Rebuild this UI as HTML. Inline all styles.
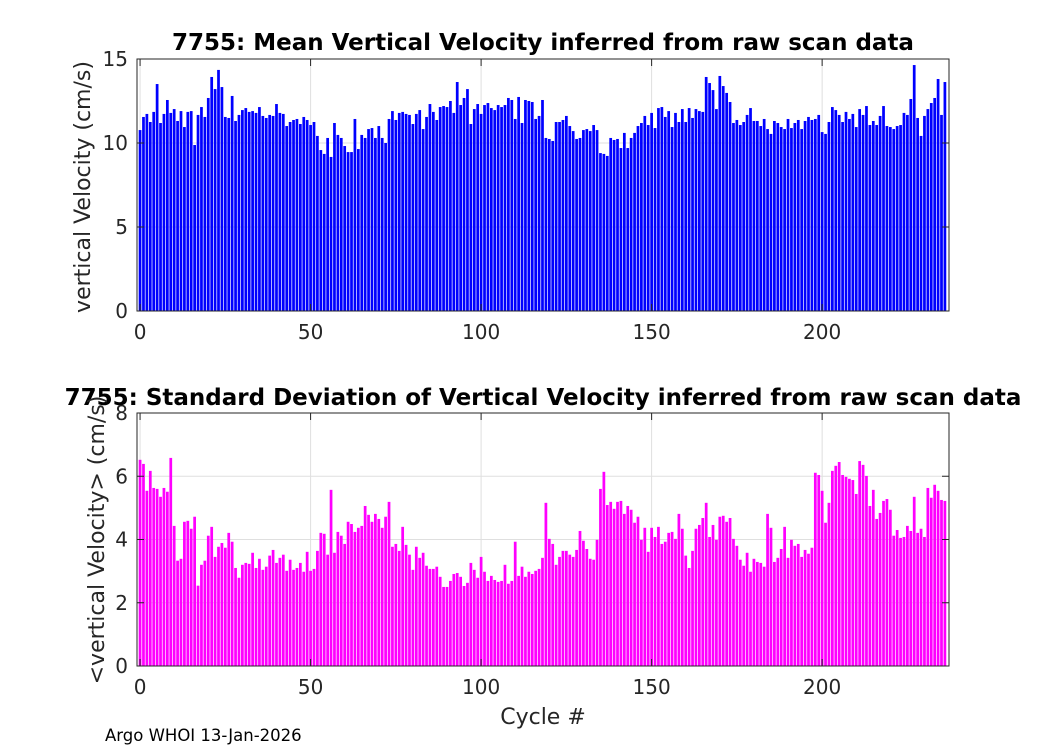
<!DOCTYPE html>
<html><head><meta charset="utf-8"><style>
html,body{margin:0;padding:0;background:#fff;}
svg{display:block;font-family:"DejaVu Sans","Liberation Sans",sans-serif;}
</style></head><body>
<svg id="fig" width="1050" height="750" viewBox="0 0 1050 750">
<rect width="1050" height="750" fill="#fff"/>
<g id="top"></g>
<g id="bot"></g>
<text x="543" y="50" text-anchor="middle" font-size="23" font-weight="bold" fill="#000">7755: Mean Vertical Velocity inferred from raw scan data</text>
<text x="543" y="405" text-anchor="middle" font-size="23" font-weight="bold" fill="#000">7755: Standard Deviation of Vertical Velocity inferred from raw scan data</text>
<text transform="translate(90,187) rotate(-90)" text-anchor="middle" font-size="22" fill="#262626">vertical Velocity (cm/s)</text>
<text transform="translate(104,540) rotate(-90)" text-anchor="middle" font-size="22" fill="#262626">&lt;vertical Velocity&gt; (cm/s)</text>
<text x="543" y="724" text-anchor="middle" font-size="22" fill="#262626">Cycle #</text>
<text x="105" y="741" font-size="16.5" fill="#000">Argo WHOI 13-Jan-2026</text>
</svg>
<script>
const meanVel = [10.77,11.55,11.73,11.25,11.85,13.51,11.19,11.73,12.56,11.79,12.02,11.31,11.9,10.95,11.85,11.9,9.88,11.67,12.14,11.55,12.68,13.93,13.21,14.35,13.33,11.55,11.49,12.8,11.31,11.67,11.96,12.08,11.85,11.9,11.79,12.14,11.61,11.49,11.67,11.61,12.32,
11.79,11.73,11.01,11.25,11.37,11.43,11.13,11.55,11.37,11.07,11.25,10.42,9.58,9.35,10.3,9.17,11.19,10.48,10.3,9.82,9.46,9.46,11.43,9.64,10.48,10.3,10.83,10.89,10.3,11.01,10.3,10.0,11.43,11.9,11.37,11.79,11.85,11.73,11.67,11.13,
11.73,11.96,10.83,11.55,12.32,11.85,11.37,12.14,12.2,12.14,12.5,11.79,13.63,12.26,12.68,13.21,11.13,12.02,12.32,11.73,12.26,12.38,12.08,11.96,12.26,12.14,12.26,12.68,12.56,11.43,12.74,11.19,12.56,12.5,12.44,11.43,11.61,12.56,10.3,10.24,10.12,
11.25,11.25,11.37,11.61,11.01,10.71,10.24,10.3,10.77,10.83,10.71,11.07,10.77,9.4,9.35,9.23,10.3,10.18,10.24,9.7,10.6,9.7,10.3,10.6,11.01,11.19,11.61,11.07,11.79,10.89,12.08,12.14,11.55,11.9,10.95,11.79,11.25,12.02,11.25,12.08,
11.49,12.02,11.9,11.85,13.93,13.57,13.15,12.02,13.99,13.39,12.98,12.44,11.19,11.37,11.07,11.25,11.67,12.08,11.31,11.31,11.01,11.43,10.83,10.54,11.31,11.19,10.95,10.83,11.43,10.89,11.19,11.37,10.83,11.31,11.55,11.37,11.43,11.67,10.65,10.54,
11.25,12.14,11.96,11.67,11.25,11.85,11.43,11.73,10.95,12.02,11.67,12.2,11.07,11.31,11.07,11.61,12.2,11.01,10.95,10.83,11.01,11.07,11.79,11.67,12.62,14.64,11.49,10.42,11.61,12.02,12.38,12.68,13.81,11.67,13.63];
const stdVel = [6.52,6.39,5.54,6.17,5.63,5.6,5.35,5.63,5.51,6.58,4.43,3.33,3.39,4.56,4.59,4.34,4.72,2.54,3.2,3.33,4.12,4.4,3.45,3.77,3.89,3.74,4.21,3.93,3.1,2.79,3.2,3.26,3.23,3.58,3.1,3.39,3.04,3.14,3.49,3.67,3.26,
3.42,3.52,3.01,3.36,3.04,3.1,3.26,2.98,3.61,3.01,3.07,3.64,4.21,4.18,3.52,5.57,3.58,4.24,4.12,3.86,4.56,4.49,4.24,4.37,4.43,5.06,4.78,4.56,4.81,4.65,4.37,4.72,5.19,3.77,3.86,3.64,4.4,3.83,3.52,3.04,
3.77,3.42,3.58,3.17,3.07,3.07,3.14,2.82,2.5,2.5,2.69,2.91,2.94,2.82,2.53,2.63,3.26,3.04,2.79,3.45,2.98,2.69,2.85,2.72,2.66,2.69,3.2,2.6,2.69,3.93,2.85,3.14,2.82,2.98,2.91,3.01,3.07,3.42,5.16,4.02,3.86,
3.2,3.45,3.64,3.64,3.52,3.45,3.67,4.27,3.96,3.7,3.39,3.36,3.99,5.6,6.14,5.09,5.19,4.97,5.19,5.22,4.81,5.06,4.94,4.53,4.72,3.99,4.37,3.61,4.37,4.08,4.4,3.86,3.93,4.21,4.24,4.02,4.81,4.34,3.49,3.1,
3.64,4.34,4.46,4.68,5.16,4.08,4.46,3.99,4.72,4.75,4.56,4.68,4.02,3.8,3.36,3.17,3.58,2.98,3.39,3.29,3.26,3.14,4.81,4.37,3.29,3.42,3.7,4.4,3.42,3.99,3.8,3.86,3.45,3.67,3.55,3.74,6.11,6.04,5.54,4.53,
5.16,6.17,6.33,6.45,6.04,5.98,5.92,5.88,5.44,6.48,6.36,6.01,5.06,5.57,4.65,4.84,5.22,5.28,4.94,4.12,4.3,4.05,4.08,4.43,4.27,5.35,4.21,4.34,4.08,5.63,5.32,5.73,5.54,5.25,5.22];
const xTicks = [0,50,100,150,200];
const topYTicks = [0,5,10,15];
const botYTicks = [0,2,4,6,8];

const NS = "http://www.w3.org/2000/svg";
function mk(tag, attrs, parent){const e=document.createElementNS(NS,tag);for(const k in attrs)e.setAttribute(k,attrs[k]);parent.appendChild(e);return e;}

function drawPanel(g, box, ymax, vals, yTicks, color){
  const L=box.l,R=box.r,T=box.t,B=box.b;
  const x0=-0.9,x1=237.2;
  const xs=v=>L+(v-x0)/(x1-x0)*(R-L);
  const ys=v=>B-v/ymax*(B-T);
  xTicks.forEach(t=>{const ln=mk('line',{x1:xs(t),x2:xs(t),y1:T,y2:B,stroke:'#dfdfdf','stroke-width':1},g);
    
    });
  yTicks.forEach(t=>{const ln=mk('line',{x1:L,x2:R,y1:ys(t),y2:ys(t),stroke:'#dfdfdf','stroke-width':1},g);
    
    });
  const step=(xs(1)-xs(0));const w=step*0.8;
  vals.forEach((v,i)=>{const r=mk('rect',{x:xs(i)-w/2,y:ys(v),width:w,height:B-ys(v),fill:color},g);
    
    });
  const bx=mk('rect',{x:L,y:T,width:R-L,height:B-T,fill:'none',stroke:'#262626','stroke-width':1},g);
  
  
  xTicks.forEach(t=>{
    mk('line',{x1:xs(t),x2:xs(t),y1:B,y2:B-7,stroke:'#262626'},g);
    mk('line',{x1:xs(t),x2:xs(t),y1:T,y2:T+7,stroke:'#262626'},g);
    const tx=mk('text',{x:xs(t),y:B+28,'text-anchor':'middle','font-size':20,fill:'#262626'},g);tx.textContent=t;
    
    });
  yTicks.forEach(t=>{
    mk('line',{x1:L,x2:L+7,y1:ys(t),y2:ys(t),stroke:'#262626'},g);
    mk('line',{x1:R,x2:R-7,y1:ys(t),y2:ys(t),stroke:'#262626'},g);
    const tx=mk('text',{x:L-9,y:ys(t)+7,'text-anchor':'end','font-size':20,fill:'#262626'},g);tx.textContent=t;
    
    });
}
drawPanel(document.getElementById('top'),{l:137,r:949,t:59,b:311},15,meanVel,topYTicks,'#0000ff');
drawPanel(document.getElementById('bot'),{l:137,r:949,t:413,b:666},8,stdVel,botYTicks,'#ff00ff');
</script>
</body></html>
